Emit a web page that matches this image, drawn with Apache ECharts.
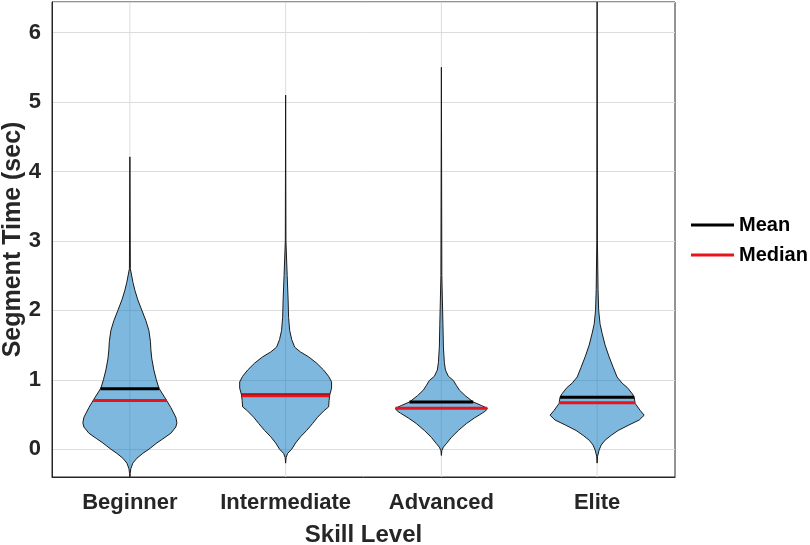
<!DOCTYPE html>
<html>
<head>
<meta charset="utf-8">
<script src="https://cdn.jsdelivr.net/npm/echarts@6/dist/echarts.min.js"></script>
<style>html,body{margin:0;padding:0;background:#fff;}#chart{width:810px;height:545px;}</style>
</head>
<body>
<div id="chart"></div>
<script>
// ---- data ----
const categories = ['Beginner', 'Intermediate', 'Advanced', 'Elite'];
const means   = [0.87, 0.78, 0.68, 0.75];
const medians = [0.70, 0.77, 0.59, 0.67];
// violin profiles: [segment time (sec), half-width as fraction of category spacing]
const beginnerProfile = [
  [4.21,0],[2.6,0.003],[2.4,0.02],[2.29,0.032],[2.15,0.051],[2.0,0.077],[1.85,0.103],
  [1.71,0.122],[1.55,0.132],[1.43,0.135],[1.3,0.141],[1.14,0.154],[1.0,0.170],[0.88,0.186],
  [0.72,0.231],[0.6,0.263],[0.46,0.295],[0.38,0.302],[0.32,0.295],[0.23,0.263],[0.15,0.212],
  [0.09,0.173],[0.0,0.122],[-0.06,0.083],[-0.13,0.045],[-0.2,0.019],[-0.28,0.006],[-0.35,0.002],[-0.45,0]
];
const intermediateProfile = [
  [5.1,0],[3.0,0.002],[2.5,0.01],[2.15,0.016],[1.9,0.019],[1.71,0.026],[1.58,0.039],[1.47,0.058],
  [1.40,0.096],[1.33,0.148],[1.24,0.199],[1.14,0.244],[1.05,0.276],[0.97,0.295],[0.88,0.295],
  [0.78,0.283],[0.70,0.279],[0.61,0.276],[0.55,0.244],[0.46,0.205],[0.37,0.173],[0.27,0.135],
  [0.18,0.096],[0.09,0.064],[0.0,0.039],[-0.06,0.013],[-0.12,0.003],[-0.2,0]
];
const advancedProfile = [
  [5.5,0],[2.5,0.003],[1.8,0.01],[1.47,0.013],[1.25,0.019],[1.14,0.026],[1.05,0.045],[0.99,0.077],
  [0.92,0.096],[0.85,0.116],[0.77,0.154],[0.68,0.205],[0.63,0.257],[0.59,0.295],[0.55,0.283],
  [0.52,0.263],[0.45,0.212],[0.37,0.161],[0.27,0.109],[0.17,0.064],[0.08,0.032],[0.03,0.013],
  [-0.02,0.003],[-0.09,0]
];
const eliteProfile = [
  [6.6,0],[3.0,0.002],[2.3,0.006],[2.0,0.01],[1.8,0.019],[1.67,0.032],[1.5,0.051],[1.33,0.077],
  [1.18,0.103],[1.04,0.128],[0.95,0.161],[0.89,0.193],[0.80,0.225],[0.75,0.238],[0.66,0.244],
  [0.56,0.276],[0.49,0.302],[0.42,0.270],[0.35,0.205],[0.27,0.135],[0.20,0.090],[0.13,0.051],
  [0.06,0.026],[-0.01,0.013],[-0.1,0.003],[-0.2,0]
];
const profiles = [beginnerProfile, intermediateProfile, advancedProfile, eliteProfile];
const yTicks = [0, 1, 2, 3, 4, 5, 6];

function widthAt(profile, v) {
  for (let i = 0; i < profile.length - 1; i++) {
    const a = profile[i], b = profile[i + 1];
    if ((v <= a[0] && v >= b[0])) {
      const t = (a[0] - v) / (a[0] - b[0]);
      return a[1] + t * (b[1] - a[1]);
    }
  }
  return 0;
}

const TEXT = '#262626';
const FONT = 'Liberation Sans, Arial, Helvetica, sans-serif';

function violinItem(params, api) {
  const idx = api.value(0);
  const prof = profiles[idx];
  const cx = api.coord([idx, 0])[0];
  const band = api.size([1, 0])[0];
  const right = prof.map(p => [cx + p[1] * band, api.coord([idx, p[0]])[1]]);
  const left = prof.slice().reverse().map(p => [cx - p[1] * band, api.coord([idx, p[0]])[1]]);
  const cs = params.coordSys;
  return {
    type: 'group',
    children: [
      { type: 'line', shape: { x1: cx, y1: cs.y, x2: cx, y2: cs.y + cs.height },
        style: { stroke: '#dcdcdc', lineWidth: 1 } },
      { type: 'polygon', shape: { points: right.concat(left) },
        style: { fill: 'rgba(0,114,189,0.5)', stroke: '#1a1a1a', lineWidth: 1 } }
    ]
  };
}

function statItem(values, color) {
  return function (params, api) {
    const idx = api.value(0);
    const v = values[idx];
    const cx = api.coord([idx, 0])[0];
    const band = api.size([1, 0])[0];
    const y = api.coord([idx, v])[1];
    const hw = widthAt(profiles[idx], v) * band;
    return { type: 'line', shape: { x1: cx - hw, y1: y, x2: cx + hw, y2: y },
      style: { stroke: color, lineWidth: 3 } };
  };
}

const chart = echarts.init(document.getElementById('chart'), null, { renderer: 'canvas' });
chart.setOption({
  animation: false,
  backgroundColor: '#fff',
  grid: { left: 52, right: 135, top: 2, bottom: 68, show: true, borderColor: TEXT, borderWidth: 1,
    containLabel: false, outerBoundsMode: 'none' },
  legend: {
    orient: 'vertical', left: 691, top: 214, icon: 'rect', itemWidth: 43, itemHeight: 3, itemGap: 8,
    padding: 0,
    textStyle: { fontFamily: FONT, fontWeight: 'bold', fontSize: 20, color: '#000', lineHeight: 22 },
    data: ['Mean', 'Median']
  },
  xAxis: {
    type: 'category', data: categories, boundaryGap: true,
    axisTick: { show: false }, axisLine: { show: true, onZero: false, lineStyle: { color: TEXT } },
    splitLine: { show: false },
    axisLabel: { interval: 0, fontFamily: FONT, fontWeight: 'bold', fontSize: 22, color: TEXT, margin: 15 },
    name: 'Skill Level', nameLocation: 'middle', nameGap: 46, nameMoveOverlap: false,
    nameTextStyle: { fontFamily: FONT, fontWeight: 'bold', fontSize: 24, color: TEXT }
  },
  yAxis: {
    type: 'value', min: -0.4, max: 6.44, splitNumber: 7,
    axisTick: { show: false }, axisLine: { show: true, lineStyle: { color: TEXT } },
    splitLine: { show: true, lineStyle: { color: '#dcdcdc', width: 1 } },
    axisLabel: { fontFamily: FONT, fontWeight: 'bold', fontSize: 22, color: TEXT, margin: 11,
      showMinLabel: false, showMaxLabel: false,
      formatter: v => (yTicks.indexOf(v) >= 0 ? String(v) : '') },
    name: 'Segment Time (sec)', nameLocation: 'middle', nameGap: 26, nameMoveOverlap: false,
    nameTextStyle: { fontFamily: FONT, fontWeight: 'bold', fontSize: 25, color: TEXT }
  },
  series: [
    { type: 'custom', name: 'violins', clip: true, renderItem: violinItem,
      data: categories.map((c, i) => [i, medians[i]]), z: 2 },
    { type: 'custom', name: 'Mean', clip: true, renderItem: statItem(means, '#000'),
      itemStyle: { color: '#000' }, data: categories.map((c, i) => [i, means[i]]), z: 3 },
    { type: 'custom', name: 'Median', clip: true, renderItem: statItem(medians, '#e8141b'),
      itemStyle: { color: '#e8141b' }, data: categories.map((c, i) => [i, medians[i]]), z: 4 }
  ]
});
</script>
</body>
</html>
